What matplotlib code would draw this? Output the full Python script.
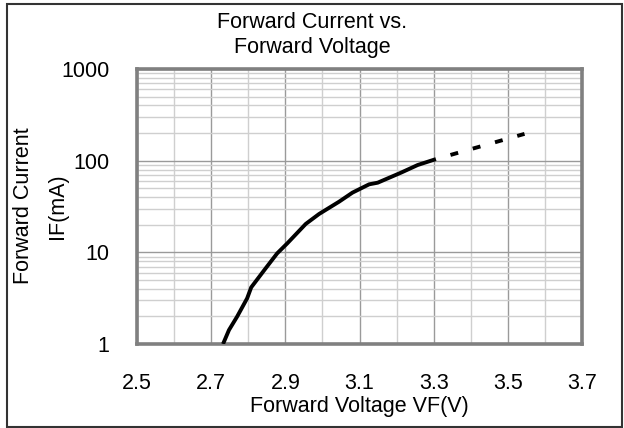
import matplotlib
matplotlib.use("Agg")
import matplotlib.pyplot as plt
from matplotlib.patches import Rectangle
from matplotlib.ticker import FixedLocator, NullFormatter, LogLocator

# measured curve (VF in V, IF in mA)
vf = [2.732, 2.748, 2.770, 2.797, 2.808, 2.847, 2.878, 2.905, 2.955,
      2.991, 3.045, 3.081, 3.126, 3.149, 3.212, 3.257, 3.306]
i_f = [1.0, 1.42, 1.99, 3.15, 4.15, 6.7, 9.75, 12.5, 20.4,
       26.2, 35.7, 44.8, 55.2, 57.5, 74.0, 89.7, 104.0]
# extrapolated part (dashed)
vf_ext = [3.306, 3.545]
i_f_ext = [104.0, 196.0]

x_ticks = [2.5, 2.7, 2.9, 3.1, 3.3, 3.5, 3.7]
x_minor = [2.6, 2.8, 3.0, 3.2, 3.4, 3.6]
y_ticks = [1, 10, 100, 1000]

plt.rcParams['font.family'] = ['Liberation Sans', 'DejaVu Sans']
fs = 15.5

fig = plt.figure(figsize=(6.24, 4.28), dpi=100)
ax = fig.add_axes([137/624, 1-344/428, 445/624, 275/428])

ax.plot(vf, i_f, color='black', lw=2.8, solid_capstyle='butt', zorder=3)
# gap first, then 4 dashes
ax.plot(vf_ext, i_f_ext, color='black', lw=2.8, linestyle=(2.05, (2.05, 3.9)),
        dash_capstyle='butt', zorder=3)

ax.set_yscale('log')
ax.set_xlim(2.5, 3.7)
ax.set_ylim(1, 1000)
ax.set_xticks(x_ticks)
ax.set_xticklabels([f"{t:.1f}" for t in x_ticks])
ax.xaxis.set_minor_locator(FixedLocator(x_minor))
ax.set_yticks(y_ticks)
ax.set_yticklabels([str(t) for t in y_ticks])
ax.yaxis.set_minor_locator(LogLocator(base=10, subs=range(2, 10)))
ax.yaxis.set_minor_formatter(NullFormatter())

ax.grid(which='major', color='#9a9a9a', lw=1.0)
ax.grid(which='minor', color='#cfcfcf', lw=1.0)
ax.set_axisbelow(True)
ax.tick_params(which='both', length=0, labelsize=fs)
ax.tick_params(axis='x', pad=21)
ax.tick_params(axis='y', pad=20)
for s in ax.spines.values():
    s.set_color('#808080')
    s.set_linewidth(2.6)

ax.set_xlabel("Forward Voltage VF(V)", fontsize=fs, labelpad=1)
fig.text(24/624, 1-206/428, "Forward Current", rotation=90, fontsize=fs,
         ha='center', va='center')
fig.text(57/624, 1-206/428, "IF(mA)", rotation=90, fontsize=fs,
         ha='center', va='center')
fig.text(0.5, 1-28/428, "Forward Current vs.", fontsize=fs, ha='center', va='baseline')
fig.text(0.5, 1-53/428, "Forward Voltage", fontsize=fs, ha='center', va='baseline')

# outer chart border
fig.patches.append(Rectangle((7/624, 1/428), 615/624, 423/428, transform=fig.transFigure,
                             fill=False, edgecolor='#333333', lw=1.5))

fig.savefig("out.png", dpi=100)
